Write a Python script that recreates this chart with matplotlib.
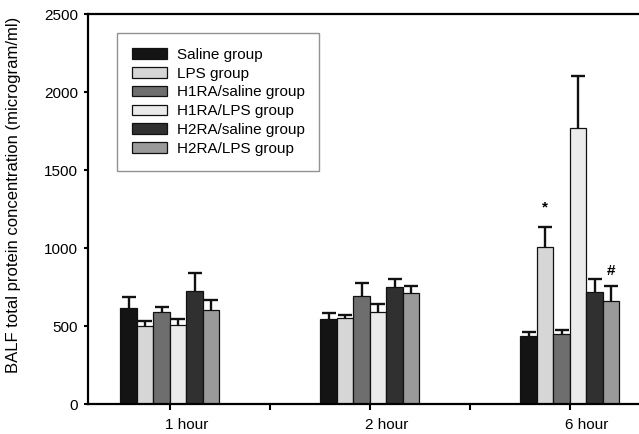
import numpy as np
import matplotlib
matplotlib.use("Agg")
import matplotlib.pyplot as plt
from matplotlib.transforms import ScaledTranslation

plt.rcParams['font.family'] = ['Liberation Sans', 'DejaVu Sans']

times = ["1 hour", "2 hour", "6 hour"]
groups = ["Saline group", "LPS group", "H1RA/saline group",
          "H1RA/LPS group", "H2RA/saline group", "H2RA/LPS group"]
colors = ["#141414", "#d6d6d6", "#6e6e6e", "#ebebeb", "#303030", "#9a9a9a"]

# mean values per group, one entry per time point
saline = [613, 545, 434]
lps = [498, 549, 1008]
h1ra_saline = [588, 690, 447]
h1ra_lps = [504, 592, 1767]
h2ra_saline = [722, 752, 716]
h2ra_lps = [600, 713, 658]

# upper error (SD / SEM)
saline_err = [75, 40, 28]
lps_err = [34, 23, 129]
h1ra_saline_err = [36, 88, 27]
h1ra_lps_err = [43, 50, 335]
h2ra_saline_err = [120, 47, 87]
h2ra_lps_err = [69, 43, 98]

means = [saline, lps, h1ra_saline, h1ra_lps, h2ra_saline, h2ra_lps]
errs = [saline_err, lps_err, h1ra_saline_err, h1ra_lps_err, h2ra_saline_err, h2ra_lps_err]

fig = plt.figure(figsize=(6.39, 4.34), dpi=100)
ax = fig.add_axes([88/639, 30/434, 564/639, 390/434])

x = np.arange(len(times))
w = 0.0825
for i in range(len(groups)):
    pos = x + (i - 2.5) * w
    ax.bar(pos, means[i], width=w, color=colors[i], edgecolor='#111111',
           linewidth=0.9, label=groups[i], zorder=2)
    eb = ax.errorbar(pos, means[i], yerr=[np.zeros(len(times)), errs[i]],
                     fmt='none', ecolor='#111111', elinewidth=1.7,
                     capsize=4.7, capthick=1.7, zorder=3)
    eb[1][0].set_visible(False)

# significance marks
ax.text(x[2] - 1.5 * w, means[1][2] + errs[1][2] + 125, "*", ha='center',
        va='center', fontsize=11, fontweight='bold')
ax.text(x[2] + 2.5 * w, means[5][2] + errs[5][2] + 95, "#", ha='center',
        va='center', fontsize=11, fontweight='bold')

ax.set_xlim(-0.41, 2.41)
ax.set_ylim(0, 2500)
ax.set_yticks(range(0, 2501, 500))
ax.set_xticks(x)
ax.set_xticklabels(times, fontsize=11)
ax.set_xticks([0.5, 1.5], minor=True)
ax.tick_params(axis='x', which='both', direction='out', length=4, width=1.5, pad=6)
ax.tick_params(axis='y', direction='out', length=3, width=1.5, labelsize=11, pad=4)
shift = ScaledTranslation(17/100, 0, fig.dpi_scale_trans)
for lab in ax.get_xticklabels():
    lab.set_transform(lab.get_transform() + shift)
for s in ax.spines.values():
    s.set_linewidth(1.6)
ax.spines['right'].set_visible(False)

ax.set_ylabel("BALF total protein concentration (microgram/ml)", fontsize=12)
ax.yaxis.set_label_coords(-0.119, 0.536)

ax.legend(loc='upper left', bbox_to_anchor=(0.0514, 0.951), fontsize=11,
          frameon=True, fancybox=False, edgecolor='#777777',
          handlelength=2.3, handleheight=0.7, labelspacing=0.32,
          borderpad=0.95, handletextpad=0.65, borderaxespad=0)

fig.savefig("out.png", dpi=100)
